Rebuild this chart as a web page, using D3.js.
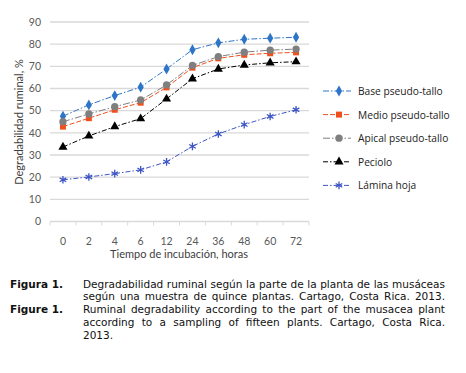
<!DOCTYPE html>
<html>
<head>
<meta charset="utf-8">
<script src="https://cdn.jsdelivr.net/npm/d3@7"></script>
<style>
  body { margin: 0; background: #fff; }
  #wrap { position: relative; width: 466px; height: 373px; }
  svg { position: absolute; left: 0; top: 0; }
  .cap { position: absolute; left: 0; font-family: "DejaVu Sans", Verdana, sans-serif; font-size: 10.5px; color: #111; line-height: 12.9px; }
  .cap b { position: absolute; left: 10px; top: 0; white-space: nowrap; }
  .cap .txt { position: absolute; left: 83px; top: 0; width: 362px; }
  .cap .ln { text-align: justify; text-align-last: justify; }
  .cap .ln.last { text-align-last: left; }
</style>
</head>
<body>
<div id="wrap">
<svg width="466" height="280"></svg>
</div>
<script>
const hours = ["0", "2", "4", "6", "12", "24", "36", "48", "60", "72"];
const yTicks = [0, 10, 20, 30, 40, 50, 60, 70, 80, 90];

const basePseudo = [47.5, 52.6, 56.8, 60.6, 68.8, 77.5, 80.6, 82.2, 82.7, 83.1];
const medioPseudo = [42.8, 46.6, 50.4, 53.6, 60.5, 69.4, 73.6, 75.2, 75.9, 76.3];
const apicalPseudo = [45.0, 48.5, 51.8, 54.8, 61.6, 70.4, 74.4, 76.4, 77.3, 77.8];
const peciolo = [33.6, 38.6, 42.8, 46.4, 55.3, 64.4, 68.8, 70.6, 71.6, 72.1];
const laminaHoja = [18.8, 20.1, 21.6, 23.3, 26.9, 33.9, 39.5, 43.7, 47.4, 50.4];

const series = [
  { name: "Base pseudo-tallo", values: basePseudo, color: "#2E75C7", dash: "6,2,1.5,2", symbol: d3.symbolDiamond, size: 34 },
  { name: "Medio pseudo-tallo", values: medioPseudo, color: "#F0501E", dash: "5,2", symbol: d3.symbolSquare, size: 36 },
  { name: "Apical pseudo-tallo", values: apicalPseudo, color: "#7F7F7F", dash: "7,2,1.5,2", symbol: d3.symbolCircle, size: 42 },
  { name: "Peciolo", values: peciolo, color: "#000000", dash: "5,2,1.5,2", symbol: d3.symbolTriangle, size: 36 },
  { name: "Lámina hoja", values: laminaHoja, color: "#3D55C4", dash: "5,2,1.5,2", symbol: d3.symbolAsterisk, size: 40 }
];

// last flag: whether the final line is left-aligned (true) or justified (false)
const captions = [
  { label: "Figura 1.", top: 277.5, leftLast: false, lines: [
    "Degradabilidad ruminal según la parte de la planta de las musáceas",
    "según una muestra de quince plantas. Cartago, Costa Rica. 2013."] },
  { label: "Figure 1.", top: 303, leftLast: true, lines: [
    "Ruminal degradability according to the part of the musacea plant",
    "according to a  sampling of fifteen plants. Cartago, Costa Rica.",
    "2013."] }
];

const svg = d3.select("svg");
const font = "Lato, 'Open Sans', sans-serif";

const x = d3.scaleBand().domain(hours).range([50, 309]);
const y = d3.scaleLinear().domain([0, 90]).range([221.5, 22]);

// gridlines
svg.append("g")
  .selectAll("line")
  .data(yTicks.slice(1))
  .join("line")
  .attr("x1", 50).attr("x2", 309)
  .attr("y1", d => y(d)).attr("y2", d => y(d))
  .attr("stroke", "#d9d9d9").attr("stroke-width", 1.3);

// y labels
svg.append("g")
  .selectAll("text")
  .data(yTicks)
  .join("text")
  .attr("x", 41).attr("y", d => y(d) + 3.8)
  .attr("text-anchor", "end")
  .attr("font-family", font).attr("font-size", 10.5).attr("fill", "#595959")
  .text(d => d);

// x axis
const xAxis = svg.append("g").attr("transform", `translate(0,${y(0)})`);
xAxis.append("line").attr("x1", 50).attr("x2", 309).attr("stroke", "#d9d9d9").attr("stroke-width", 1.3);
xAxis.selectAll("line.tk")
  .data(hours.concat(["end"]))
  .join("line")
  .attr("class", "tk")
  .attr("x1", (d, i) => 50 + i * x.step()).attr("x2", (d, i) => 50 + i * x.step())
  .attr("y1", 0).attr("y2", 4)
  .attr("stroke", "#d9d9d9");
xAxis.selectAll("text")
  .data(hours)
  .join("text")
  .attr("x", d => x(d) + x.bandwidth() / 2).attr("y", 23)
  .attr("text-anchor", "middle")
  .attr("font-family", font).attr("font-size", 10.5).attr("fill", "#595959")
  .text(d => d);

// titles
svg.append("text")
  .attr("x", 179).attr("y", 258)
  .attr("text-anchor", "middle")
  .attr("font-family", font).attr("font-size", 11).attr("fill", "#404040")
  .text("Tiempo de incubación, horas");
svg.append("text")
  .attr("transform", "translate(23,122) rotate(-90)")
  .attr("text-anchor", "middle")
  .attr("font-family", font).attr("font-size", 11).attr("fill", "#404040")
  .text("Degradabilidad ruminal, %");

// lines + markers
const line = d3.line().x((d, i) => x(hours[i]) + x.bandwidth() / 2).y(d => y(d));
const g = svg.append("g").selectAll("g").data(series).join("g");
g.append("path")
  .attr("d", d => line(d.values))
  .attr("fill", "none")
  .attr("stroke", d => d.color).attr("stroke-width", 1)
  .attr("stroke-dasharray", d => d.dash);
g.selectAll("path.mk")
  .data(d => d.values.map((v, i) => ({ v, i, s: d })))
  .join("path")
  .attr("class", "mk")
  .attr("transform", d => `translate(${x(hours[d.i]) + x.bandwidth() / 2},${y(d.v)})`)
  .attr("d", d => d3.symbol(d.s.symbol, d.s.size)())
  .attr("fill", d => d.s.color)
  .attr("stroke", d => d.s.color)
  .attr("stroke-width", d => d.s.symbol === d3.symbolAsterisk ? 1.3 : 0);

// legend
const leg = svg.append("g").selectAll("g").data(series).join("g")
  .attr("transform", (d, i) => `translate(323,${91 + i * 23.6})`);
leg.append("line")
  .attr("x1", 0).attr("x2", 28)
  .attr("stroke", d => d.color).attr("stroke-dasharray", d => d.dash);
leg.append("path")
  .attr("transform", "translate(16,0)")
  .attr("d", d => d3.symbol(d.symbol, d.size)())
  .attr("fill", d => d.color).attr("stroke", d => d.color)
  .attr("stroke-width", d => d.symbol === d3.symbolAsterisk ? 1.3 : 0);
leg.append("text")
  .attr("x", 35).attr("y", 4)
  .attr("font-family", "'Open Sans', Lato, sans-serif").attr("font-size", 10.2).attr("fill", "#222")
  .text(d => d.name);

// caption, one div per line so each can be justified
captions.forEach(c => {
  const el = d3.select("#wrap").append("div").attr("class", "cap").style("top", c.top + "px");
  el.append("b").text(c.label);
  el.append("div").attr("class", "txt")
    .selectAll("div")
    .data(c.lines)
    .join("div")
    .attr("class", (d, i) => "ln" + (c.leftLast && i === c.lines.length - 1 ? " last" : ""))
    .text(d => d);
});
</script>
</body>
</html>
